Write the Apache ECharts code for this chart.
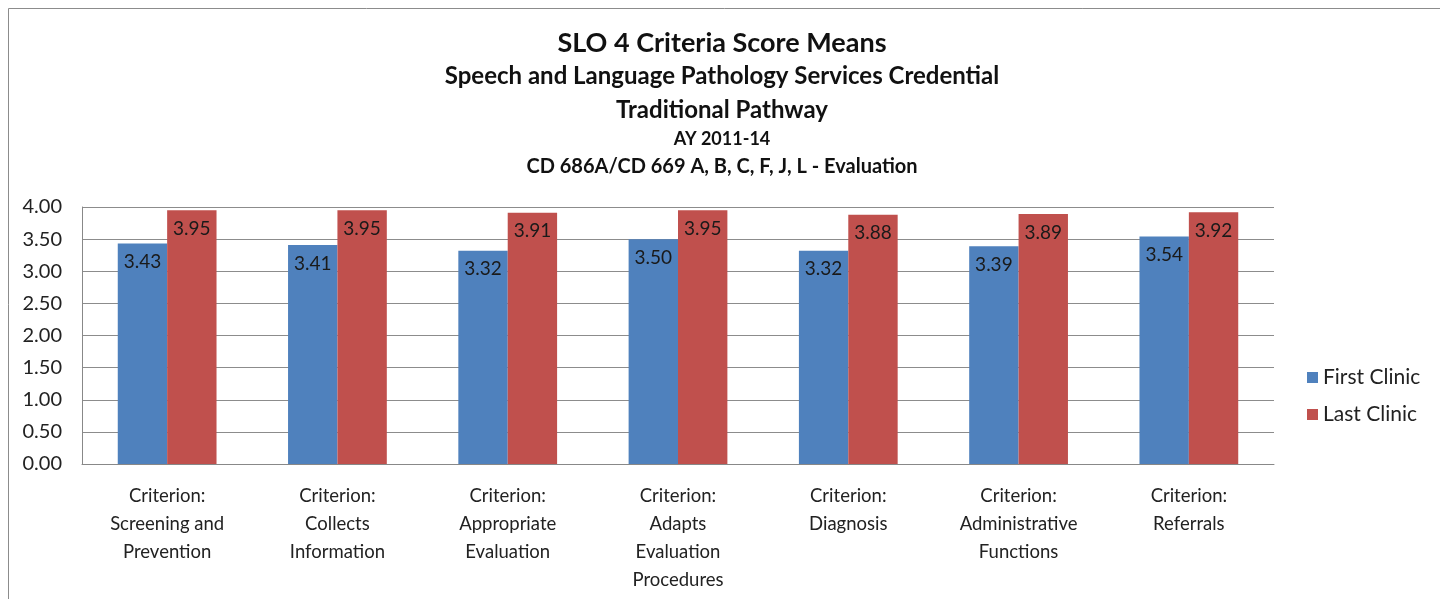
<!DOCTYPE html>
<html>
<head>
<meta charset="UTF-8">
<title>SLO 4 Criteria Score Means</title>
<style>
  html, body { margin: 0; padding: 0; background: #fff; }
  #box { width: 1440px; height: 599px; }
</style>
</head>
<body>
<div id="box"></div>
<script src="https://cdn.jsdelivr.net/npm/echarts@6/dist/echarts.min.js"></script>
<script>
const categories = [
  'Criterion:\nScreening and\nPrevention',
  'Criterion:\nCollects\nInformation',
  'Criterion:\nAppropriate\nEvaluation',
  'Criterion:\nAdapts\nEvaluation\nProcedures',
  'Criterion:\nDiagnosis',
  'Criterion:\nAdministrative\nFunctions',
  'Criterion:\nReferrals'
];
const firstClinic = [3.43, 3.41, 3.32, 3.50, 3.32, 3.39, 3.54];
const lastClinic = [3.95, 3.95, 3.91, 3.95, 3.88, 3.89, 3.92];
const titleLines = [
  'SLO 4 Criteria Score Means',
  'Speech and Language Pathology Services Credential',
  'Traditional Pathway',
  'AY 2011-14',
  'CD 686A/CD 669 A, B, C, F, J, L - Evaluation'
];

const font = 'Lato, "Open Sans", sans-serif';
const chart = echarts.init(document.getElementById('box'));

// label inside bar near its top, like the spreadsheet
const barLabel = {
  show: true,
  position: 'insideTop',
  distance: 9,
  color: '#1a1a1a',
  fontFamily: font,
  fontSize: 19,
  formatter: p => p.value.toFixed(2)
};

function titleText(i, y, size) {
  return {
    type: 'text', x: 722, y: y,
    style: { text: titleLines[i], font: 'bold ' + size + 'px ' + font, fill: '#111', align: 'center', verticalAlign: 'middle' }
  };
}

chart.setOption({
  animation: false,
  textStyle: { fontFamily: font },
  graphic: [
    {
      type: 'rect',
      shape: { x: 8.5, y: 8.5, width: 1440, height: 620 },
      style: { fill: 'none', stroke: '#8c8c8c', lineWidth: 1 }
    },
    titleText(0, 43, 27),
    titleText(1, 76, 24),
    titleText(2, 110, 24),
    titleText(3, 139, 18),
    titleText(4, 167, 20)
  ],
  legend: {
    orient: 'vertical',
    left: 1302,
    top: 362,
    itemWidth: 11,
    itemHeight: 11,
    itemGap: 16,
    icon: 'rect',
    textStyle: { fontSize: 21, color: '#222', fontFamily: font },
    data: ['First Clinic', 'Last Clinic']
  },
  grid: { left: 82, top: 207, width: 1192, height: 257, containLabel: false },
  xAxis: {
    type: 'category',
    data: categories,
    axisLine: { lineStyle: { color: '#888' } },
    axisTick: { show: false },
    axisLabel: {
      interval: 0,
      margin: 18,
      fontSize: 18.5,
      lineHeight: 28,
      color: '#222',
      fontFamily: font
    }
  },
  yAxis: {
    type: 'value',
    min: 0,
    max: 4,
    interval: 0.5,
    axisLine: { show: true, lineStyle: { color: '#888' } },
    axisTick: { show: false },
    splitLine: { lineStyle: { color: '#8c8c8c' } },
    axisLabel: {
      fontSize: 20,
      color: '#222',
      margin: 20,
      fontFamily: font,
      formatter: v => v.toFixed(2)
    }
  },
  series: [
    {
      name: 'First Clinic',
      type: 'bar',
      data: firstClinic,
      barGap: '0%',
      barCategoryGap: '42%',
      itemStyle: { color: '#4F81BD' },
      label: barLabel
    },
    {
      name: 'Last Clinic',
      type: 'bar',
      data: lastClinic,
      itemStyle: { color: '#C0504D' },
      label: barLabel
    }
  ]
});
</script>
</body>
</html>
